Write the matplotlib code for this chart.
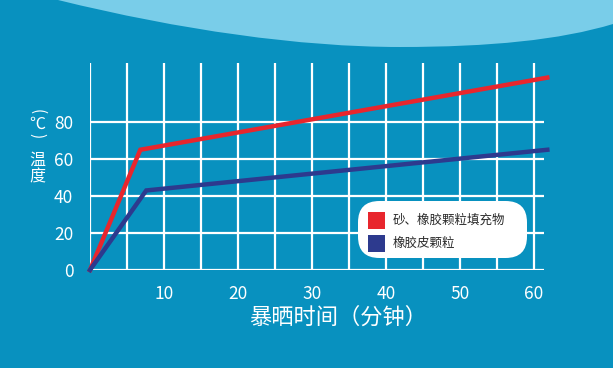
import numpy as np
import matplotlib
matplotlib.use('Agg')
import matplotlib.pyplot as plt
from matplotlib.path import Path
from matplotlib.patches import PathPatch, FancyBboxPatch, Rectangle

plt.rcParams['font.family'] = ['Noto Sans CJK SC', 'DejaVu Sans']

# data
red_x = [0, 6.8, 61.8]
red_y = [0, 65, 104]
blue_x = [0, 7.6, 61.8]
blue_y = [0, 43, 65]
x_ticks = [10, 20, 30, 40, 50, 60]
y_ticks = [0, 20, 40, 60, 80]
labels = ['砂、橡胶颗粒填充物', '橡胶皮颗粒']
xlabel = '暴晒时间（分钟）'

bg = '#0891bf'
light = '#79cde9'
red = '#e8262d'
blue = '#2d3a8e'

W, H = 613, 368
fig = plt.figure(figsize=(W / 100, H / 100), dpi=100)
fig.patch.set_facecolor(bg)


def px(x, y):
    # pixel coords (top-left origin) -> figure fraction
    return x / W, 1 - y / H


# light wave at the top
verts = [px(58, 0), px(180, 30), px(300, 47), px(400, 47),
         px(490, 47), px(560, 40), px(613, 24), px(613, 0), px(58, 0)]
codes = [Path.MOVETO, Path.CURVE4, Path.CURVE4, Path.CURVE4,
         Path.CURVE4, Path.CURVE4, Path.CURVE4, Path.LINETO, Path.CLOSEPOLY]
fig.patches.append(PathPatch(Path(verts, codes), transform=fig.transFigure,
                             facecolor=light, edgecolor='none', zorder=0))

left, right, top, bottom = 90, 544, 63, 270
ax = fig.add_axes([left / W, 1 - bottom / H, (right - left) / W, (bottom - top) / H])
ax.set_facecolor('none')
ax.set_xlim(0, 61.35)
ax.set_ylim(0, 111.9)
for s in ax.spines.values():
    s.set_visible(False)

for gx in np.arange(0, 61, 5):
    ax.axvline(gx, color='white', lw=1.6, zorder=1)
for gy in y_ticks:
    ax.axhline(gy, color='white', lw=1.6, zorder=1)

ax.plot(red_x, red_y, color=red, lw=3.2, zorder=3, clip_on=False,
        solid_joinstyle='miter')
ax.plot(blue_x, blue_y, color=blue, lw=3.2, zorder=3, clip_on=False,
        solid_joinstyle='miter')

ax.set_xticks(x_ticks)
ax.set_yticks(y_ticks)
ax.tick_params(length=0, colors='white', labelsize=12.5)
ax.tick_params(axis='x', pad=11)
ax.tick_params(axis='y', pad=12)

fig.text(*px(338, 317), xlabel, color='white', fontsize=16,
         ha='center', va='center')

# vertical y label: （℃）温度 written top to bottom
fig.text(*px(37, 112), '(', color='white', fontsize=11, rotation=-90,
         ha='center', va='center')
fig.text(*px(37, 124), '℃', color='white', fontsize=11.5,
         ha='center', va='center')
fig.text(*px(37, 136), ')', color='white', fontsize=11, rotation=-90,
         ha='center', va='center')
fig.text(*px(37, 160), '温', color='white', fontsize=11.5,
         ha='center', va='center')
fig.text(*px(37, 177), '度', color='white', fontsize=11.5,
         ha='center', va='center')

# legend box
fig.patches.append(FancyBboxPatch((358 / W, 1 - 258 / H), 169 / W, 57 / H,
                                  boxstyle='round,pad=0,rounding_size=0.035',
                                  transform=fig.transFigure, facecolor='white',
                                  edgecolor='none', zorder=5,
                                  mutation_aspect=W / H))
for lab, col, yy in [(labels[0], red, 220), (labels[1], blue, 243)]:
    fig.patches.append(Rectangle(px(368, yy + 8.5), 17 / W, 17 / H,
                                 transform=fig.transFigure, facecolor=col,
                                 edgecolor='none', zorder=6))
    fig.text(*px(393, yy), lab, color='#2a2a2a', fontsize=9,
             ha='left', va='center', zorder=7)

fig.savefig('out.png', dpi=100, facecolor=bg)
